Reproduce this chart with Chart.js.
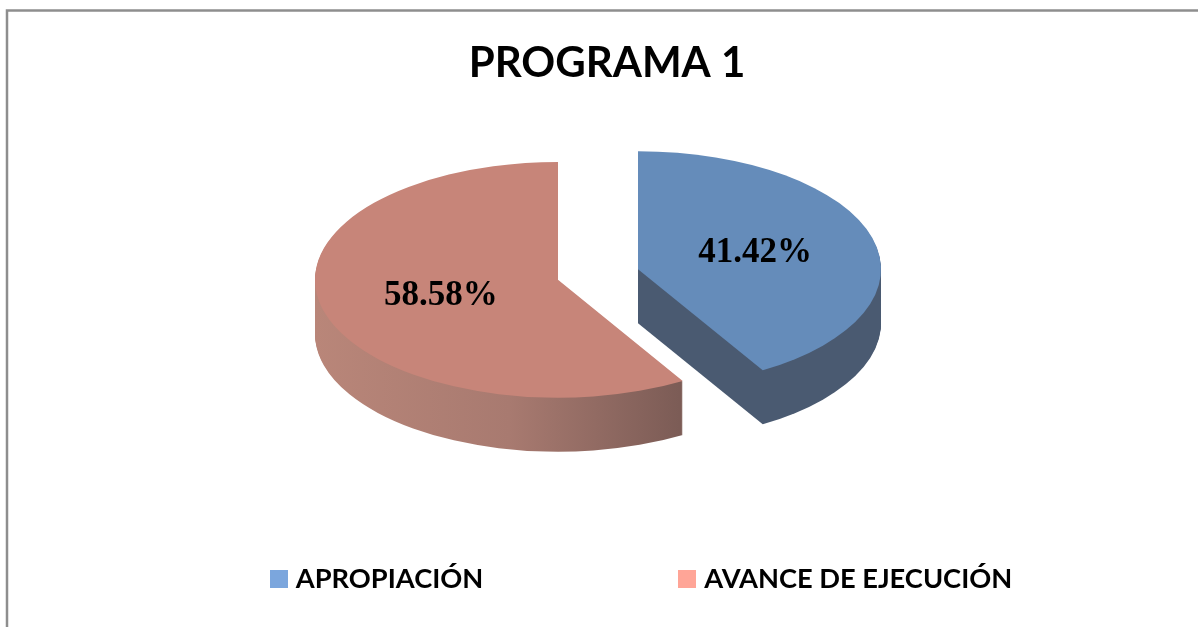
<!DOCTYPE html>
<html>
<head>
<meta charset="utf-8">
<title>PROGRAMA 1</title>
<script src="https://cdn.jsdelivr.net/npm/chart.js@4"></script>
<style>
  html, body { margin: 0; padding: 0; background: #fff; }
  #grafico { display: block; }
</style>
</head>
<body>
<canvas id="grafico" width="1198" height="627"></canvas>
<script>
const categorias = ['APROPIACIÓN', 'AVANCE DE EJECUCIÓN'];
const valores = [41.42, 58.58];
const coloresLeyenda = ['#7ba6dd', '#ffa597'];
const coloresCara = ['#658cba', '#c78579'];

// vista del pastel 3D
const centroX = 598;
const centroY = 274.5;
const inclinacion = 0.485;
const profundidad = 54;
const separacion = 41.5;

function ladoRelleno(ctx, arc, i) {
  const izq = arc.x - arc.outerRadius;
  const der = arc.x + arc.outerRadius;
  const g = ctx.createLinearGradient(izq, 0, der, 0);
  if (i === 0) {
    g.addColorStop(0, '#4a5a71');
    g.addColorStop(1, '#4a5a71');
  } else {
    g.addColorStop(0, '#b98679');
    g.addColorStop(0.4, '#a87a70');
    g.addColorStop(0.75, '#7c5c56');
    g.addColorStop(1, '#7c5c56');
  }
  return g;
}

function dibujarArco(ctx, arc, color, bajada) {
  const original = arc.options;
  const medio = (arc.startAngle + arc.endAngle) / 2;
  arc.options = Object.assign({}, original, { backgroundColor: color });
  ctx.save();
  ctx.translate(centroX, centroY + bajada);
  ctx.scale(1, inclinacion);
  ctx.translate(Math.cos(medio) * separacion - arc.x, Math.sin(medio) * separacion - arc.y);
  arc.draw(ctx);
  ctx.restore();
  arc.options = original;
}

// cuadro de leyenda como imagen, para acercarlo al texto
function cuadro(color) {
  const c = document.createElement('canvas');
  c.width = 18;
  c.height = 18;
  const cx = c.getContext('2d');
  cx.fillStyle = color;
  cx.fillRect(0, 0, 18, 18);
  return c;
}

const pastel3d = {
  id: 'pastel3d',
  beforeDraw(chart) {
    const ctx = chart.ctx;
    ctx.save();
    ctx.strokeStyle = '#8e8e8e';
    ctx.lineWidth = 2.5;
    ctx.beginPath();
    ctx.moveTo(7, 627);
    ctx.lineTo(7, 10.5);
    ctx.lineTo(1198, 10.5);
    ctx.stroke();
    ctx.restore();
  },
  afterLayout(chart) {
    chart.legend.left += 44.7;
    chart.legend.right += 44.7;
    chart.titleBlock.left += 8;
    chart.titleBlock.right += 8;
  },
  beforeDatasetsDraw(chart) {
    const ctx = chart.ctx;
    const arcos = chart.getDatasetMeta(0).data;
    arcos.forEach((arc, i) => {
      const relleno = ladoRelleno(ctx, arc, i);
      for (let d = profundidad; d > 0; d--) dibujarArco(ctx, arc, relleno, d);
    });
    arcos.forEach((arc, i) => {
      dibujarArco(ctx, arc, coloresCara[i], 0);
    });
    // etiquetas de porcentaje
    ctx.save();
    ctx.font = 'bold 35px "Liberation Serif"';
    ctx.fillStyle = '#000';
    ctx.textAlign = 'center';
    ctx.textBaseline = 'middle';
    arcos.forEach((arc, i) => {
      const p = arc.getCenterPoint();
      const medio = (arc.startAngle + arc.endAngle) / 2;
      const x = centroX + (p.x - arc.x) + Math.cos(medio) * separacion;
      const y = centroY + ((p.y - arc.y) + Math.sin(medio) * separacion) * inclinacion;
      ctx.fillText(valores[i].toFixed(2) + '%', x, y);
    });
    ctx.restore();
    return false;
  }
};

new Chart(document.getElementById('grafico').getContext('2d'), {
  type: 'pie',
  data: {
    labels: categorias,
    datasets: [{
      data: valores,
      backgroundColor: coloresLeyenda,
      borderWidth: 0
    }]
  },
  options: {
    responsive: false,
    animation: false,
    events: [],
    radius: 243,
    layout: { padding: { top: 0, bottom: 24 } },
    plugins: {
      title: {
        display: true,
        text: 'PROGRAMA 1',
        color: '#000',
        font: { family: 'Lato', weight: 'bold', size: 42 },
        padding: { top: 38, bottom: 20 }
      },
      legend: {
        position: 'bottom',
        labels: {
          color: '#000',
          font: { family: 'Lato', weight: 'bold', size: 27.25 },
          usePointStyle: true,
          pointStyleWidth: 7,
          boxHeight: 18,
          padding: 200.4,
          generateLabels(chart) {
            return categorias.map((texto, i) => ({
              text: texto,
              fontColor: '#000',
              pointStyle: cuadro(coloresLeyenda[i]),
              lineWidth: 0,
              hidden: false,
              index: i
            }));
          }
        }
      },
      tooltip: { enabled: false }
    }
  },
  plugins: [pastel3d]
});
</script>
</body>
</html>
